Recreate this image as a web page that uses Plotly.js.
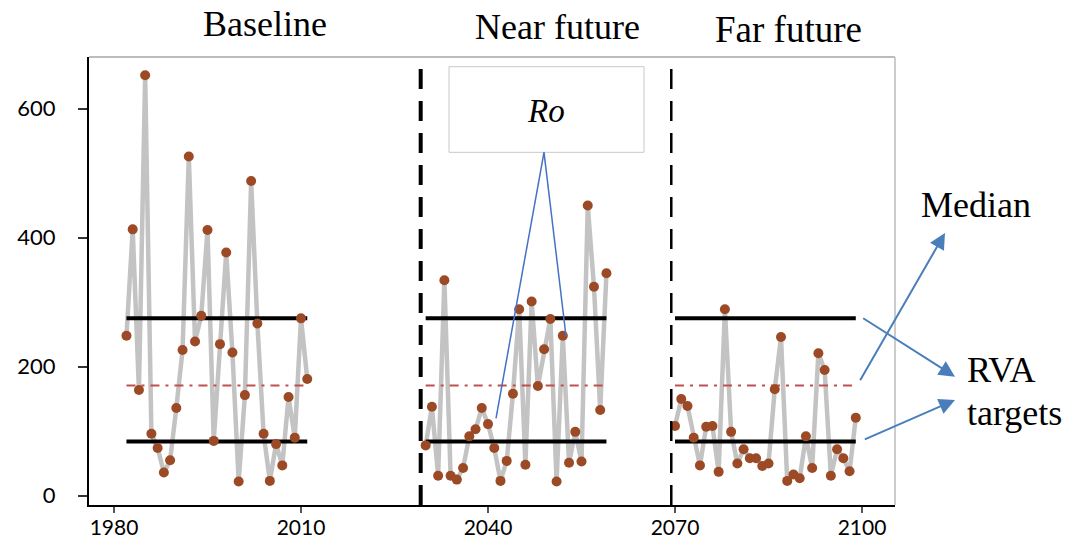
<!DOCTYPE html>
<html><head><meta charset="utf-8">
<script src="https://cdn.plot.ly/plotly-3.0.1.min.js"></script>
<style>html,body{margin:0;padding:0;background:#fff}#chart{width:1067px;height:541px}</style>
</head><body><div id="chart"></div>
<script>
// ---- data ----
const periodNames = ["Baseline", "Near future", "Far future"];
const baselineYears = [1982,1983,1984,1985,1986,1987,1988,1989,1990,1991,1992,1993,1994,1995,1996,1997,1998,1999,2000,2001,2002,2003,2004,2005,2006,2007,2008,2009,2010,2011];
const baselineRo = [248,413,164,652,96,74,36,55,136,226,526,239,279,412,85,235,377,222,22,156,488,267,96,23,80,47,153,90,275,181];
const nearYears = [2030,2031,2032,2033,2034,2035,2036,2037,2038,2039,2040,2041,2042,2043,2044,2045,2046,2047,2048,2049,2050,2051,2052,2053,2054,2055,2056,2057,2058,2059];
const nearRo = [78,138,31,334,31,25,43,92,103,136,111,74,23,54,158,289,48,301,170,227,274,22,248,51,99,53,450,324,133,345];
const farYears = [2070,2071,2072,2073,2074,2075,2076,2077,2078,2079,2080,2081,2082,2083,2084,2085,2086,2087,2088,2089,2090,2091,2092,2093,2094,2095,2096,2097,2098,2099];
const farRo = [108,150,139,90,47,107,108,37,289,99,50,72,58,58,46,50,165,246,23,33,27,92,43,221,195,31,72,58,38,121];
const rvaLow = 84;
const rvaHigh = 275;
const medianRo = 171;
const periodBreaks = [2029.2, 2069.4];
const xTicks = [1980, 2010, 2040, 2070, 2100];
const yTicks = [0, 200, 400, 600];

// ---- geometry helpers (pixel -> paper) ----
const L = 89, R = 895, T = 57, B = 505;
function px(x){ return (x - L) / (R - L); }
function py(y){ return (B - y) / (B - T); }

const periods = [[baselineYears, baselineRo],[nearYears, nearRo],[farYears, farRo]];
const traces = [];
periods.forEach(([yrs, vals]) => {
  traces.push({x: yrs, y: vals, mode: 'lines', line: {color: '#c3c3c3', width: 4.5}, hoverinfo: 'skip'});
});
periods.forEach(([yrs]) => {
  const a = yrs[0], b = yrs[yrs.length-1];
  traces.push({x: [a, b], y: [rvaHigh, rvaHigh], mode: 'lines', line: {color: '#000', width: 4}});
  traces.push({x: [a, b], y: [rvaLow, rvaLow], mode: 'lines', line: {color: '#000', width: 4}});
  traces.push({x: [a, b], y: [medianRo, medianRo], mode: 'lines', line: {color: '#c0504d', width: 2, dash: '9px,6px,3px,6px'}});
});
periods.forEach(([yrs, vals]) => {
  traces.push({x: yrs, y: vals, mode: 'markers', marker: {color: '#9c4a26', size: 10, symbol: 'circle'}});
});

const serif = 'Liberation Serif, Times New Roman, serif';
function txt(text, x, yBase, size, anchor){
  return {text: text, xref: 'paper', yref: 'paper', x: px(x), y: py(yBase - 0.3375*size),
    xanchor: anchor || 'center', yanchor: 'middle', showarrow: false,
    font: {family: serif, size: size, color: '#000'}};
}
function arrow(tx, ty, hx, hy){
  return {text: '', xref: 'paper', yref: 'paper', x: px(hx), y: py(hy),
    ax: tx - hx, ay: ty - hy, axref: 'pixel', ayref: 'pixel', showarrow: true,
    arrowhead: 2, arrowsize: 1.6, arrowwidth: 2, arrowcolor: '#4a7ebb', standoff: 0};
}

const annotations = [
  txt(periodNames[0], 264.5, 36, 36),
  txt(periodNames[1], 557.7, 39.3, 36),
  txt(periodNames[2], 788, 41.7, 37),
  txt('<i>Ro</i>', 545.7, 121.7, 33),
  txt('Median', 976.5, 216.7, 36),
  txt('RVA', 965, 381.7, 36, 'left'),
  txt('targets', 965, 425, 36, 'left'),
  arrow(859.3, 381.7, 945, 233),
  arrow(861.7, 317.3, 955, 376.7),
  arrow(863.3, 440, 955, 400)
];

const shapes = [
  {type: 'line', xref: 'paper', yref: 'paper', x0: 0, x1: 1, y0: 1, y1: 1, line: {color: '#a6a6a6', width: 1.5}},
  {type: 'line', xref: 'paper', yref: 'paper', x0: 1, x1: 1, y0: 0, y1: 1, line: {color: '#cccccc', width: 2}},
  {type: 'line', xref: 'x', yref: 'paper', x0: periodBreaks[0], x1: periodBreaks[0], y0: 0, y1: 1, line: {color: '#000', width: 4, dash: '20px,12px'}},
  {type: 'line', xref: 'x', yref: 'paper', x0: periodBreaks[1], x1: periodBreaks[1], y0: 0, y1: 1, line: {color: '#000', width: 2.5, dash: '20px,12px'}},
  {type: 'rect', xref: 'paper', yref: 'paper', x0: px(449), x1: px(644), y0: py(152.3), y1: py(66.7), line: {color: '#c8c8c8', width: 1}, fillcolor: '#fff'},
  {type: 'line', xref: 'paper', yref: 'paper', x0: px(544), y0: py(152.3), x1: px(496), y1: py(418.3), line: {color: '#4472c4', width: 1.5}},
  {type: 'line', xref: 'paper', yref: 'paper', x0: px(544), y0: py(152.3), x1: px(566), y1: py(336), line: {color: '#4472c4', width: 1.5}}
];

const layout = {
  width: 1067, height: 541,
  margin: {l: L, r: 1067 - R, t: T, b: 541 - B, pad: 0},
  paper_bgcolor: '#fff', plot_bgcolor: '#fff',
  showlegend: false,
  xaxis: {range: [1975.99, 2105.29], tickvals: xTicks, ticktext: xTicks.map(String),
    showline: true, linecolor: '#000', linewidth: 2, ticks: 'outside', ticklen: 6, tickwidth: 1.5, tickcolor: '#555',
    ticklabelstandoff: -3,
    showgrid: false, zeroline: false, tickfont: {family: 'Lato, Open Sans, sans-serif', size: 21, color: '#000'}},
  yaxis: {range: [-14.4, 680.2], tickvals: yTicks, ticktext: yTicks.map(String),
    showline: true, linecolor: '#000', linewidth: 2, ticks: 'outside', ticklen: 9, tickwidth: 2, tickcolor: '#333',
    ticklabelstandoff: 18, showgrid: false, zeroline: false,
    tickfont: {family: 'Lato, Open Sans, sans-serif', size: 22, color: '#000'}},
  annotations: annotations,
  shapes: shapes
};

Plotly.newPlot('chart', traces, layout, {staticPlot: true, displayModeBar: false});
</script>
</body></html>
